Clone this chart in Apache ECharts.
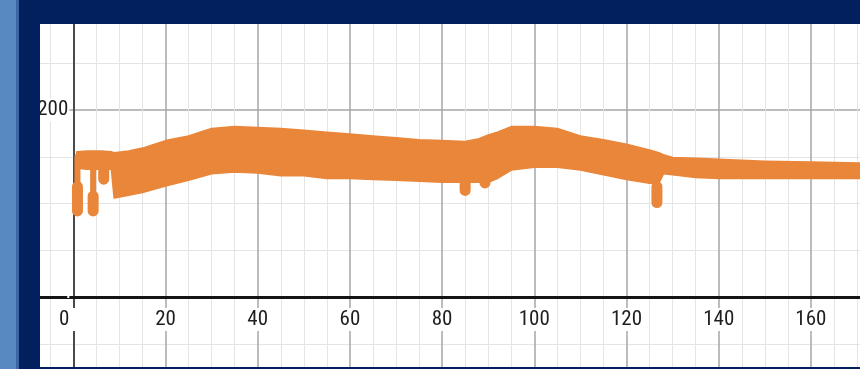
<!DOCTYPE html>
<html>
<head>
<meta charset="utf-8">
<script src="https://cdn.jsdelivr.net/npm/echarts@6/dist/echarts.min.js"></script>
<style>
  html, body { margin: 0; padding: 0; background: #ffffff; }
  #chart { width: 860px; height: 369px; }
</style>
</head>
<body>
<div id="chart"></div>
<script>
// Signal band: upper and lower edges of the noisy trace, sampled along x
var bandX = [0.8, 3, 6, 8.3, 8.9, 12, 15, 20, 25, 30, 35, 40, 45, 50, 55, 60, 65, 70, 75, 80, 85, 88, 90, 92, 95, 100, 105, 110, 115, 120, 125, 127, 128, 130, 135, 140, 150, 160, 171];
var bandUpper = [155, 156, 156, 155, 154, 156, 159, 167, 172, 180, 182, 181, 180, 178, 176, 174, 172, 170, 168, 167, 166, 169, 173, 176, 182, 182, 180, 172, 168, 163, 157, 154, 152, 149, 148, 147, 145, 144, 143];
var bandLower = [138, 137, 137, 137, 106, 109, 112, 119, 125, 132, 134, 133, 130, 130, 127, 127, 126, 125, 124, 123, 123, 123, 123, 127, 136, 139, 139, 136, 131, 126, 122, 122, 132, 131, 128, 127, 127, 127, 127];

// Downward spikes: position, where each leaves the band, where its blob begins, tip
var dripX = [0.9, 4.3, 6.6, 85, 89.3, 126.6];
var dripRoot = [150, 150, 150, 126, 126, 126];
var dripBlobTop = [118, 108, 146, 126, 126, 118];
var dripTip = [92, 92, 126, 114, 122, 101];

// Axis ticks
var xTickStep = 20;
var yTickStep = 200;

var orange = '#e9863a';
var labelFont = "'Liberation Sans Narrow', 'Roboto Condensed', 'DejaVu Sans Condensed', Roboto, sans-serif";
var labelSize = 21;

function segments(xs, from, to) {
  var out = [];
  xs.forEach(function (x, i) {
    out.push([x, from[i]], [x, to[i]], [x, '-']);
  });
  return out;
}

// Filled region between the upper and lower edges, drawn as one polygon
function renderBand(params, api) {
  if (params.dataIndex !== 0) return null;
  var pts = [];
  for (var i = 0; i < bandX.length; i++) pts.push(api.coord([bandX[i], bandUpper[i]]));
  for (var j = bandX.length - 1; j >= 0; j--) pts.push(api.coord([bandX[j], bandLower[j]]));
  return {
    type: 'polygon',
    shape: { points: pts },
    style: { fill: orange, stroke: orange, lineWidth: 2, lineJoin: 'round' }
  };
}

var chart = echarts.init(document.getElementById('chart'), null, { renderer: 'canvas' });

// Plot box: x from -20 to 180, y from -200 to 400; the frame hides what lies outside
chart.setOption({
  animation: false,
  backgroundColor: '#ffffff',
  grid: {
    left: -18.9,
    right: -43.1,
    top: -77,
    bottom: -115,
    outerBoundsMode: 'none'
  },
  xAxis: {
    type: 'value',
    position: 'bottom',
    offset: -187,
    min: -20,
    max: 180,
    interval: xTickStep,
    axisLine: { onZero: false, lineStyle: { color: '#141414', width: 3 } },
    axisTick: { show: false },
    minorTick: { show: false, splitNumber: 4 },
    splitLine: { show: true, lineStyle: { color: '#a6a6a6', width: 1.5 } },
    minorSplitLine: { show: true, lineStyle: { color: '#e4e4e4', width: 1 } },
    axisLabel: {
      margin: 11,
      fontSize: labelSize,
      fontFamily: labelFont,
      color: '#1e1e1e',
      backgroundColor: '#ffffff',
      padding: [1, 1, 1, 1],
      formatter: function (v) { return v === 0 ? '{o|0}' : String(v); },
      rich: {
        o: { fontSize: labelSize, fontFamily: labelFont, color: '#1e1e1e', padding: [0, 18, 0, 0] }
      }
    }
  },
  yAxis: {
    type: 'value',
    position: 'left',
    offset: -92.2,
    min: -200,
    max: 400,
    interval: yTickStep,
    axisLine: { onZero: false, lineStyle: { color: '#4a4a4a', width: 2 } },
    axisTick: { show: false },
    minorTick: { show: false, splitNumber: 4 },
    splitLine: { show: true, lineStyle: { color: '#a6a6a6', width: 1.5 } },
    minorSplitLine: { show: true, lineStyle: { color: '#e4e4e4', width: 1 } },
    axisLabel: {
      margin: 4,
      fontSize: labelSize,
      fontFamily: labelFont,
      color: '#1e1e1e',
      backgroundColor: '#ffffff',
      padding: [1, 1, 1, 1],
      formatter: function (v) { return v === 0 ? '' : String(v); }
    }
  },
  series: [
    {
      name: 'band',
      type: 'custom',
      renderItem: renderBand,
      data: bandX.map(function (x, i) { return [x, bandUpper[i], bandLower[i]]; }),
      encode: { x: 0, y: [1, 2] },
      z: 3
    },
    {
      name: 'stems',
      type: 'line',
      data: segments(dripX, dripRoot, dripTip),
      showSymbol: false,
      connectNulls: false,
      lineStyle: { color: orange, width: 6, cap: 'round' },
      z: 3
    },
    {
      name: 'blobs',
      type: 'line',
      data: segments(dripX, dripBlobTop, dripTip),
      showSymbol: false,
      connectNulls: false,
      lineStyle: { color: orange, width: 11, cap: 'round' },
      z: 3
    }
  ],
  graphic: [
    { type: 'rect', left: 0, top: 0, shape: { width: 16, height: 369 }, style: { fill: '#5989c1' }, z: 100 },
    { type: 'rect', left: 16, top: 0, shape: { width: 3, height: 369 }, style: { fill: '#3c67a4' }, z: 100 },
    { type: 'rect', left: 19, top: 0, shape: { width: 21, height: 369 }, style: { fill: '#02205e' }, z: 100 },
    { type: 'rect', left: 19, top: 0, shape: { width: 841, height: 24 }, style: { fill: '#02205e' }, z: 100 },
    { type: 'rect', left: 19, top: 367, shape: { width: 841, height: 2 }, style: { fill: '#02205e' }, z: 100 }
  ]
});
</script>
</body>
</html>
